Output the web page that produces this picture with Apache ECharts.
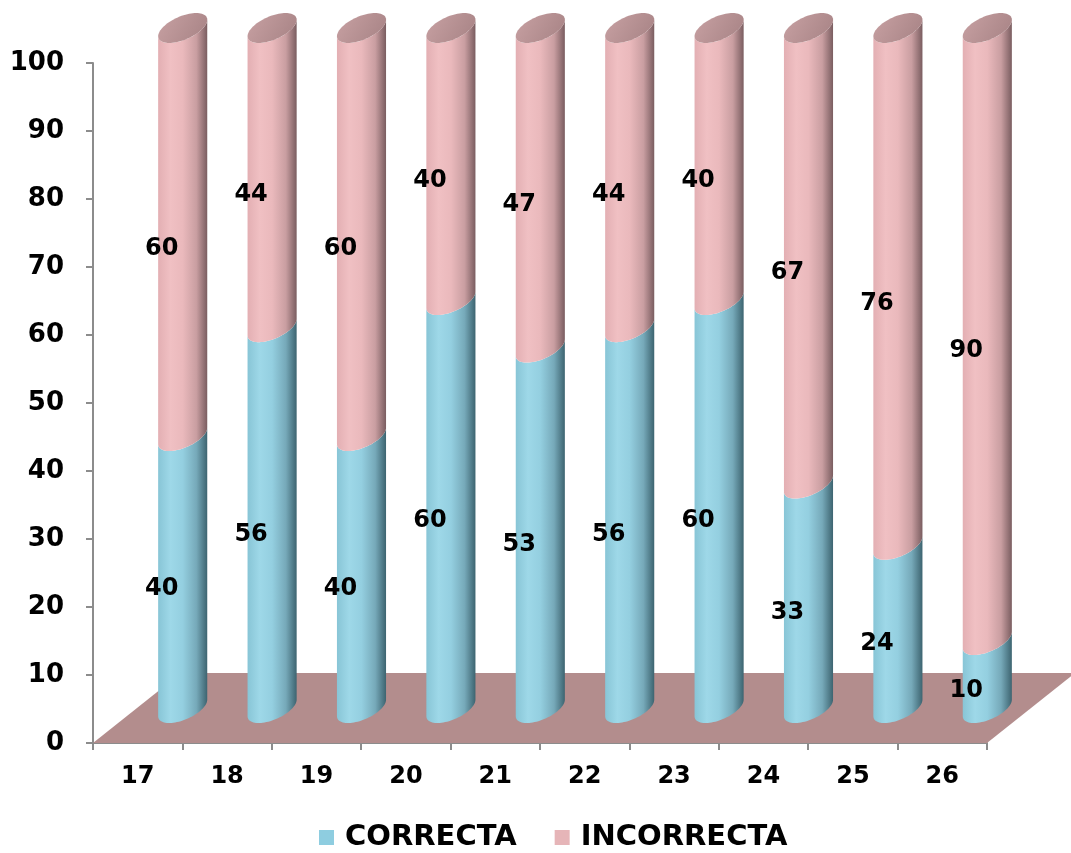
<!DOCTYPE html>
<html>
<head>
<meta charset="utf-8">
<script src="https://cdn.jsdelivr.net/npm/echarts@6/dist/echarts.min.js"></script>
<style>
html,body{margin:0;padding:0;background:#fff;}
#chart{width:1071px;height:853px;}
</style>
</head>
<body>
<div id="chart"></div>
<script>
// ---- data ----
const categories = ['17','18','19','20','21','22','23','24','25','26'];
const correcta   = [40, 56, 40, 60, 53, 56, 60, 33, 24, 10];
const incorrecta = [60, 44, 60, 40, 47, 44, 40, 67, 76, 90];
const seriesNames = ['CORRECTA', 'INCORRECTA'];
const yMin = 0, yMax = 100, yStep = 10;

// ---- style constants (3D look) ----
const FONT = 'DejaVu Sans';
const CYL_DX = 45, CYL_DY = -35;      // cylinder axis offset (mid depth)
const LBL_DX = 24, LBL_DY = -18;      // data label offset
const FLOOR_DX = 88, FLOOR_DY = -70;  // floor depth
const EU = 20.5, EVX = 13.5, EVY = -15; // ellipse radius vectors
const T0 = Math.atan2(EVX, EU);

function arc(cx, cy, ta, tb, n) {
  const pts = [];
  for (let k = 0; k <= n; k++) {
    const t = ta + (tb - ta) * k / n;
    pts.push([cx + EU * Math.cos(t) + EVX * Math.sin(t), cy + EVY * Math.sin(t)]);
  }
  return pts;
}
function side(cx, yLow, yHigh) {
  return arc(cx, yLow, T0 - Math.PI, T0, 40).concat(arc(cx, yHigh, T0, T0 - Math.PI, 40));
}
const G = echarts.graphic.LinearGradient;
const blueFill = () => new G(0,0,1,0,[
  {offset:0,color:'#88C5D6'},{offset:0.25,color:'#9ED8E8'},{offset:0.5,color:'#94CFE0'},
  {offset:0.78,color:'#76A9B9'},{offset:1,color:'#3D6470'}]);
const pinkFill = () => new G(0,0,1,0,[
  {offset:0,color:'#E3AFB3'},{offset:0.25,color:'#F0C0C3'},{offset:0.5,color:'#EAB9BC'},
  {offset:0.78,color:'#C99EA1'},{offset:1,color:'#7A5D60'}]);
const topFill = () => new G(0,0,1,1,[
  {offset:0,color:'#C8A1A3'},{offset:1,color:'#A68284'}]);

function makeSegment(fillFn, withTop) {
  return function (params, api) {
    const i = api.value(0), base = api.value(1), val = api.value(2);
    const pLow = api.coord([i, base]);
    const pHigh = api.coord([i, base + val]);
    const pMid = api.coord([i, base + val / 2]);
    const cx = pLow[0] + CYL_DX;
    const children = [{
      type: 'polygon',
      shape: { points: side(cx, pLow[1] + CYL_DY, pHigh[1] + CYL_DY) },
      style: { fill: fillFn() }
    }];
    if (withTop) {
      children.push({
        type: 'polygon',
        shape: { points: arc(cx, pHigh[1] + CYL_DY, 0, Math.PI * 2, 80) },
        style: { fill: topFill() }
      });
    }
    children.push({
      type: 'text',
      style: {
        text: String(val), x: pMid[0] + LBL_DX, y: pMid[1] + LBL_DY,
        align: 'center', verticalAlign: 'middle',
        font: 'bold 24px "' + FONT + '"', fill: '#000'
      }
    });
    return { type: 'group', children: children };
  };
}

const floorData = [[0]];
const chart = echarts.init(document.getElementById('chart'));
chart.setOption({
  animation: false,
  backgroundColor: '#fff',
  grid: { left: 93, right: 84, top: 63, bottom: 110, containLabel: false },
  legend: {
    data: seriesNames,
    left: 314, top: 818,
    itemWidth: 15, itemHeight: 15, itemGap: 38,
    icon: 'rect',
    textStyle: { fontFamily: FONT, fontWeight: 'bold', fontSize: 29, color: '#000', padding: [0,0,0,6] }
  },
  xAxis: {
    type: 'category', data: categories, boundaryGap: true,
    axisLine: { show: true, lineStyle: { color: '#8C8C8C', width: 2 } },
    axisTick: { show: true, interval: 0, length: 7, lineStyle: { color: '#8C8C8C', width: 2 } },
    axisLabel: { fontFamily: FONT, fontWeight: 'bold', fontSize: 24, color: '#000', margin: 22 },
    splitLine: { show: false }
  },
  yAxis: {
    type: 'value', min: yMin, max: yMax, interval: yStep,
    axisLine: { show: true, lineStyle: { color: '#8C8C8C', width: 2 } },
    axisTick: { show: true, length: 7, lineStyle: { color: '#8C8C8C', width: 2 } },
    axisLabel: { fontFamily: FONT, fontWeight: 'bold', fontSize: 26, color: '#000', margin: 29 },
    splitLine: { show: false }
  },
  series: [
    {
      type: 'custom', name: 'floor', clip: false, silent: true, z: 1,
      data: floorData,
      renderItem: function (params, api) {
        const p0 = api.coord([0, yMin]);
        const p1 = api.coord([categories.length - 1, yMin]);
        const bw = api.size([1, 0])[0];
        const l = p0[0] - bw / 2, r = p1[0] + bw / 2, y = p0[1];
        return {
          type: 'polygon',
          shape: { points: [[l, y], [r, y], [r + FLOOR_DX, y + FLOOR_DY], [l + FLOOR_DX, y + FLOOR_DY]] },
          style: { fill: '#B38D8D' }
        };
      }
    },
    {
      type: 'custom', name: seriesNames[0], clip: false, z: 3,
      itemStyle: { color: '#8ECDE0' },
      encode: { x: 0, y: 2 },
      data: correcta.map((v, i) => [i, 0, v]),
      renderItem: makeSegment(blueFill, false)
    },
    {
      type: 'custom', name: seriesNames[1], clip: false, z: 3,
      itemStyle: { color: '#E6B5B8' },
      encode: { x: 0, y: 2 },
      data: incorrecta.map((v, i) => [i, correcta[i], v]),
      renderItem: makeSegment(pinkFill, true)
    }
  ]
});
</script>
</body>
</html>
